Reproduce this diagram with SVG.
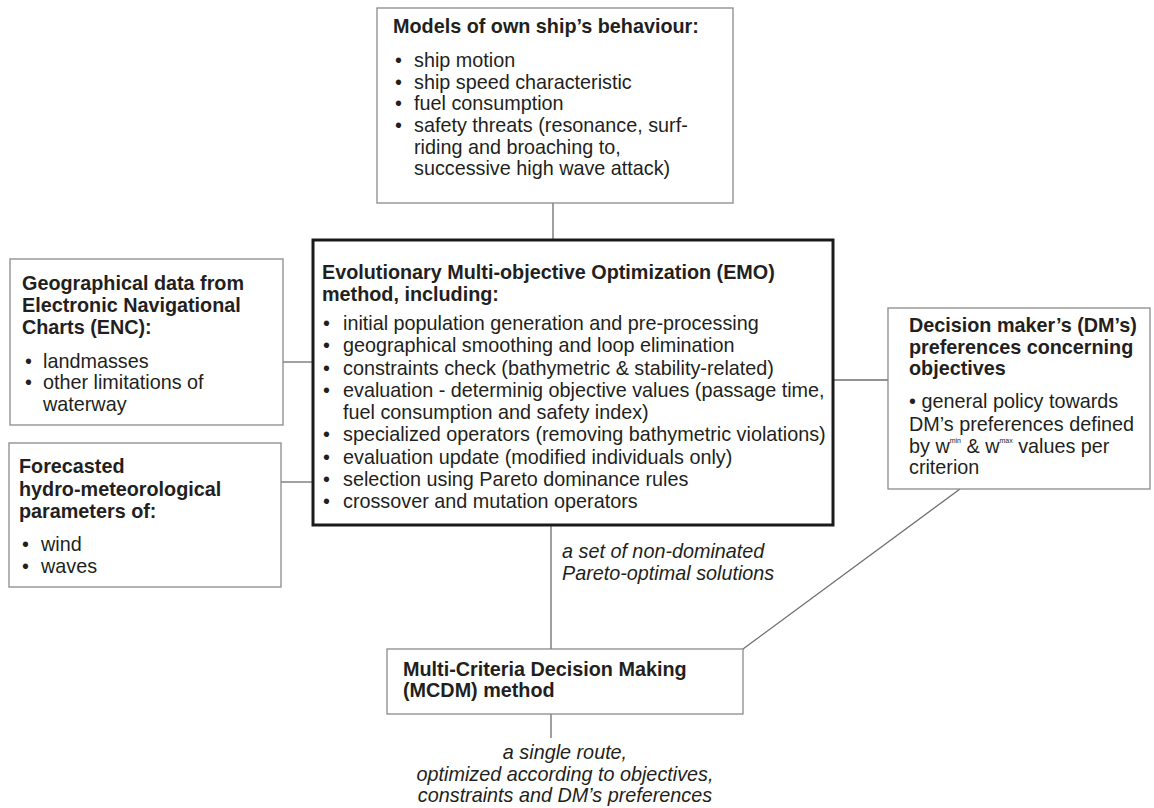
<svg xmlns="http://www.w3.org/2000/svg" width="1154" height="808" viewBox="0 0 1154 808">
<style>
text{font-family:"Liberation Sans",Arial,sans-serif;font-size:19.8px;fill:#231f20}
.b{font-weight:bold}
.i{font-style:italic}
.box{fill:#fff;stroke:#8a8a8a;stroke-width:1.3}
.main{fill:#fff;stroke:#1a1a1a;stroke-width:3}
.c line{stroke:#6e6e6e;stroke-width:1.3}
</style>
<rect width="1154" height="808" fill="#fff"/>
<g class="c" id="connectors">
<line x1="553" y1="203" x2="553" y2="240"/>
<line x1="283" y1="362" x2="313" y2="362"/>
<line x1="281" y1="482" x2="313" y2="482"/>
<line x1="833" y1="380" x2="888" y2="380"/>
<line x1="960" y1="489" x2="743" y2="649"/>
<line x1="551" y1="525" x2="551" y2="649"/>
<line x1="551" y1="714" x2="551" y2="738"/>
</g>
<g id="models">
<rect class="box" x="377" y="8" width="356" height="195"/>
<text class="b" x="393" y="33">Models of own ship’s behaviour:</text>
<text x="395" y="67">•</text><text x="414" y="67">ship motion</text>
<text x="395" y="88.5">•</text><text x="414" y="88.5">ship speed characteristic</text>
<text x="395" y="110">•</text><text x="414" y="110">fuel consumption</text>
<text x="395" y="132">•</text><text x="414" y="132">safety threats (resonance, surf-</text>
<text x="414" y="153.5">riding and broaching to,</text>
<text x="414" y="175">successive high wave attack)</text>
</g>
<g id="geo">
<rect class="box" x="10" y="259" width="273" height="166"/>
<text class="b" x="22" y="290">Geographical data from</text>
<text class="b" x="22" y="312">Electronic Navigational</text>
<text class="b" x="22" y="334">Charts (ENC):</text>
<text x="25" y="368">•</text><text x="43" y="368">landmasses</text>
<text x="25" y="389">•</text><text x="43" y="389">other limitations of</text>
<text x="43" y="411">waterway</text>
</g>
<g id="forecast">
<rect class="box" x="9" y="443" width="272" height="144"/>
<text class="b" x="19" y="473">Forecasted</text>
<text class="b" x="19" y="496">hydro-meteorological</text>
<text class="b" x="19" y="518">parameters of:</text>
<text x="22" y="551">•</text><text x="41" y="551">wind</text>
<text x="22" y="573">•</text><text x="41" y="573">waves</text>
</g>
<g id="emo">
<rect class="main" x="313" y="240" width="520" height="285"/>
<text class="b" x="322" y="279">Evolutionary Multi-objective Optimization (EMO)</text>
<text class="b" x="322" y="301">method, including:</text>
<text x="323" y="330">•</text><text x="343" y="330">initial population generation and pre-processing</text>
<text x="323" y="352.2">•</text><text x="343" y="352.2">geographical smoothing and loop elimination</text>
<text x="323" y="374.5">•</text><text x="343" y="374.5">constraints check (bathymetric &amp; stability-related)</text>
<text x="323" y="396.7">•</text><text x="343" y="396.7">evaluation - determinig objective values (passage time,</text>
<text x="343" y="419">fuel consumption and safety index)</text>
<text x="323" y="441.2">•</text><text x="343" y="441.2">specialized operators (removing bathymetric violations)</text>
<text x="323" y="463.5">•</text><text x="343" y="463.5">evaluation update (modified individuals only)</text>
<text x="323" y="485.7">•</text><text x="343" y="485.7">selection using Pareto dominance rules</text>
<text x="323" y="508">•</text><text x="343" y="508">crossover and mutation operators</text>
</g>
<g id="dm">
<rect class="box" x="888" y="308" width="262" height="181"/>
<text class="b" x="909" y="332">Decision maker’s (DM’s)</text>
<text class="b" x="909" y="353.5">preferences concerning</text>
<text class="b" x="909" y="375">objectives</text>
<text x="909" y="408">• general policy towards</text>
<text x="909" y="431">DM’s preferences defined</text>
<text x="909" y="453">by w<tspan dy="-10" font-size="7">min</tspan><tspan dy="10"> &amp; w</tspan><tspan dy="-10" font-size="7">max</tspan><tspan dy="10"> values per</tspan></text>
<text x="909" y="474">criterion</text>
</g>
<g id="mcdm">
<rect class="box" x="387" y="649" width="356" height="65"/>
<text class="b" x="403" y="676">Multi-Criteria Decision Making</text>
<text class="b" x="403" y="697">(MCDM) method</text>
</g>
<g id="labels">
<text class="i" x="562" y="558">a set of non-dominated</text>
<text class="i" x="562" y="580">Pareto-optimal solutions</text>
<text class="i" x="565" y="759" text-anchor="middle">a single route,</text>
<text class="i" x="565" y="781" text-anchor="middle">optimized according to objectives,</text>
<text class="i" x="565" y="802" text-anchor="middle">constraints and DM’s preferences</text>
</g>
</svg>
